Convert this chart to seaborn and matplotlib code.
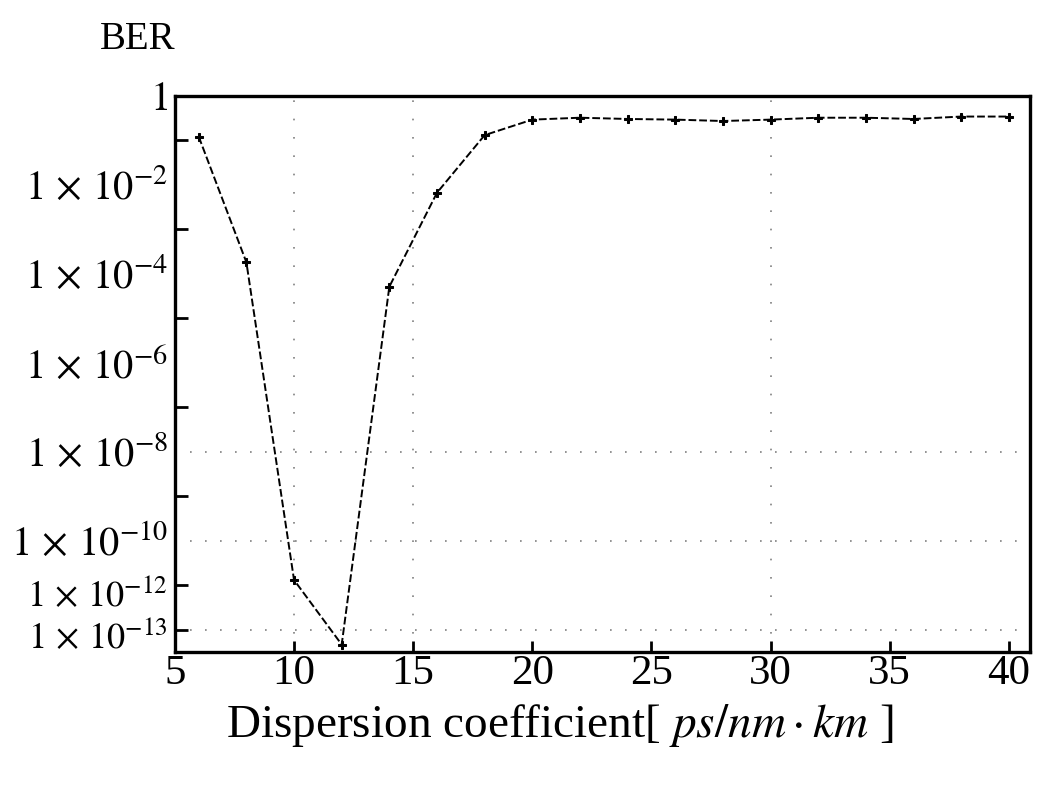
import numpy as np
import pandas as pd
import matplotlib
matplotlib.use("Agg")
import matplotlib.pyplot as plt
import seaborn as sns

# ---- data ----
dispersion = [6, 8, 10, 12, 14, 16, 18, 20, 22, 24, 26, 28, 30, 32, 34, 36, 38, 40]
ber = [0.12, 1.8e-4, 1.3e-11, 4.6e-13, 5.1e-5, 6.6e-3, 0.13, 0.29, 0.32, 0.30,
       0.29, 0.27, 0.29, 0.32, 0.32, 0.30, 0.34, 0.34]

x_ticks = [5, 10, 15, 20, 25, 30, 35, 40]
# label positions as they appear on the reference axis
y_label_pos = [1, 1e-2, 1e-4, 1e-6, 1e-8, 1e-10, 10**-11.15, 10**-12.1]
y_label_txt = [r"$1\enspace$", r"$1\,\times\,10^{-2}$", r"$1\,\times\,10^{-4}$",
               r"$1\,\times\,10^{-6}$", r"$1\,\times\,10^{-8}$", r"$1\,\times\,10^{-10}$",
               r"$1\,\times\,10^{-12}$", r"$1\,\times\,10^{-13}$"]
grid_y = [1e-8, 1e-10, 1e-12]
grid_x = [10, 15, 30]

df = pd.DataFrame({"D": dispersion, "BER": ber})

sns.set_style("ticks")
plt.rcParams["font.family"] = ["Liberation Serif", "DejaVu Serif"]
plt.rcParams["mathtext.fontset"] = "stix"
for k in ["text.color", "axes.labelcolor", "xtick.color", "ytick.color", "axes.edgecolor"]:
    plt.rcParams[k] = "black"

fig = plt.figure(figsize=(10.6, 7.91), dpi=100)
ax = fig.add_axes([0.165, 0.176, 0.807, 0.703])

for gy in grid_y:
    ax.axhline(gy, color="#808080", lw=1.2, ls=(0, (1, 8)), zorder=0)
for gx in grid_x:
    ax.axvline(gx, color="#808080", lw=1.2, ls=(0, (1, 10)), zorder=0)

sns.lineplot(data=df, x="D", y="BER", ax=ax, color="black", lw=1.4,
             linestyle=(0, (4, 1.5)), marker="P", markersize=6,
             markeredgecolor="black", markerfacecolor="black")

ax.set_yscale("log")
ax.set_xlim(5, 40.9)
ax.set_ylim(10**-12.5, 1)

ax.set_xticks(x_ticks)
ax.set_xticklabels([str(t) for t in x_ticks], fontsize=31)
ax.set_yticks(y_label_pos)
ax.set_yticklabels(y_label_txt, fontsize=29)
for lbl in ax.get_yticklabels()[-2:]:
    lbl.set_fontsize(26)
ax.yaxis.set_minor_locator(matplotlib.ticker.FixedLocator([10.0**(-k) for k in range(1, 13)]))
ax.yaxis.set_minor_formatter(matplotlib.ticker.NullFormatter())
ax.tick_params(axis="y", which="major", length=0, pad=5)
ax.tick_params(axis="y", which="minor", direction="in", length=9, width=2)
ax.tick_params(axis="x", which="major", direction="in", length=8, width=2, pad=2)
ax.tick_params(axis="x", which="minor", length=0)

for s in ax.spines.values():
    s.set_linewidth(2.4)
    s.set_color("black")

ax.set_xlabel(r"Dispersion coefficient[ $ps/nm\cdot km$ ]", fontsize=34, labelpad=2)
ax.xaxis.set_label_coords(0.45, -0.09)
ax.set_ylabel("")
fig.text(0.094, 0.950, "BER", fontsize=28, ha="left", va="center")

fig.savefig("out.png", dpi=100)
